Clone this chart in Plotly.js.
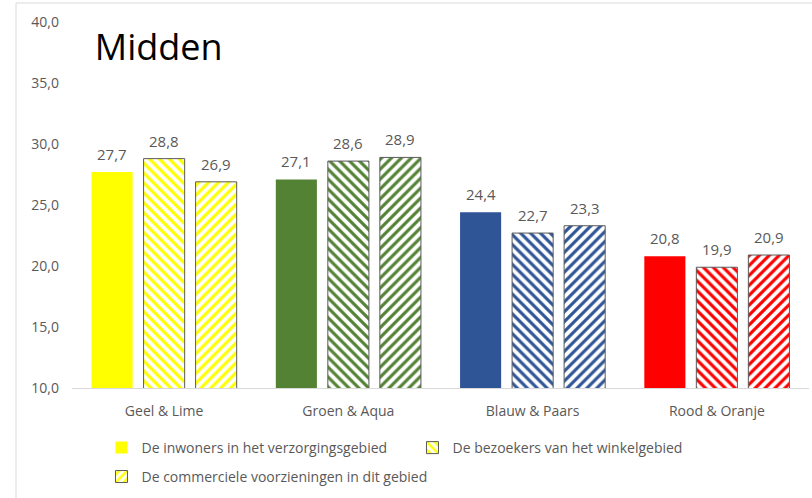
<!DOCTYPE html>
<html>
<head>
<meta charset="utf-8">
<script src="https://cdn.plot.ly/plotly-3.0.1.min.js"></script>
<style>html,body{margin:0;padding:0;background:#fff;}#chart{width:812px;height:498px;}</style>
</head>
<body>
<div id="chart"></div>
<script>
const categories = ['Geel & Lime', 'Groen & Aqua', 'Blauw & Paars', 'Rood & Oranje'];
const seriesNames = ['De inwoners in het verzorgingsgebied', 'De bezoekers van het winkelgebied', 'De commerciele voorzieningen in dit gebied'];
const inwoners = [27.7, 27.1, 24.4, 20.8];
const bezoekers = [28.8, 28.6, 22.7, 19.9];
const commercieel = [26.9, 28.9, 23.3, 20.9];
const groupColors = ['#FFFF00', '#548235', '#2F5597', '#FF0000'];
const yTicks = [10, 15, 20, 25, 30, 35, 40];

const FONT = 'Open Sans, sans-serif';
const GRAY = '#595959';

const traces = [
  {
    type: 'bar', name: seriesNames[0], x: categories, y: inwoners,
    marker: {color: groupColors, line: {width: 0}},
    legend: 'legend', hoverinfo: 'none'
  },
  {
    type: 'bar', name: seriesNames[1], x: categories, y: bezoekers,
    marker: {color: groupColors, line: {color: GRAY, width: 1},
      pattern: {shape: '\\', fgcolor: groupColors, bgcolor: '#FFFFFF', size: 7, solidity: 0.45, fillmode: 'replace'}},
    legend: 'legend', hoverinfo: 'none'
  },
  {
    type: 'bar', name: seriesNames[2], x: categories, y: commercieel,
    marker: {color: groupColors, line: {color: GRAY, width: 1},
      pattern: {shape: '/', fgcolor: groupColors, bgcolor: '#FFFFFF', size: 7, solidity: 0.45, fillmode: 'replace'}},
    legend: 'legend2', hoverinfo: 'none'
  }
];

const allSeries = [inwoners, bezoekers, commercieel];
const annotations = [];
allSeries.forEach((vals, si) => {
  vals.forEach((v, ci) => {
    annotations.push({
      x: categories[ci], y: v, xref: 'x', yref: 'y',
      text: v.toFixed(1).replace('.', ','), showarrow: false,
      xshift: (si - 1) * 52, yshift: 18, yanchor: 'middle',
      font: {family: FONT, size: 15, color: GRAY}
    });
  });
});

const layout = {
  width: 812, height: 498,
  margin: {l: 72, r: 3, t: 22, b: 110},
  paper_bgcolor: '#FFFFFF', plot_bgcolor: '#FFFFFF',
  separators: ',.',
  font: {family: FONT, color: GRAY, size: 14},
  title: {
    text: 'Midden', font: {family: FONT, size: 36, color: '#000000'},
    xref: 'paper', x: 0.031, xanchor: 'left',
    yref: 'container', y: 1 - 47 / 498, yanchor: 'middle'
  },
  barmode: 'group', bargap: 0.153, bargroupgap: 0.21,
  xaxis: {
    type: 'category', showline: true, linecolor: '#D9D9D9', linewidth: 1,
    showgrid: false, zeroline: false, ticks: '', ticklabelstandoff: 10,
    tickfont: {family: FONT, size: 14, color: GRAY}, fixedrange: true
  },
  yaxis: {
    range: [10, 40], tickvals: yTicks, tickformat: '.1f',
    showgrid: false, zeroline: false, showline: false, ticks: '',
    ticklabelstandoff: 12,
    tickfont: {family: FONT, size: 14, color: GRAY}, fixedrange: true
  },
  showlegend: true,
  legend: {
    orientation: 'h', x: 0.04, xanchor: 'left', y: -0.164, yanchor: 'middle',
    font: {family: FONT, size: 14, color: GRAY}, entrywidth: 266, entrywidthmode: 'pixels',
    itemclick: false, itemdoubleclick: false, bgcolor: 'rgba(0,0,0,0)'
  },
  legend2: {
    orientation: 'h', x: 0.04, xanchor: 'left', y: -0.243, yanchor: 'middle',
    font: {family: FONT, size: 14, color: GRAY},
    itemclick: false, itemdoubleclick: false, bgcolor: 'rgba(0,0,0,0)'
  },
  annotations: annotations,
  shapes: [{
    type: 'rect', xref: 'paper', yref: 'paper', layer: 'below',
    x0: (16 - 72) / 737, x1: 1.05, y0: -0.4, y1: (388 - 3) / 366,
    line: {color: '#D9D9D9', width: 1}, fillcolor: 'rgba(0,0,0,0)'
  }]
};

Plotly.newPlot('chart', traces, layout, {displayModeBar: false, staticPlot: true});
</script>
</body>
</html>
